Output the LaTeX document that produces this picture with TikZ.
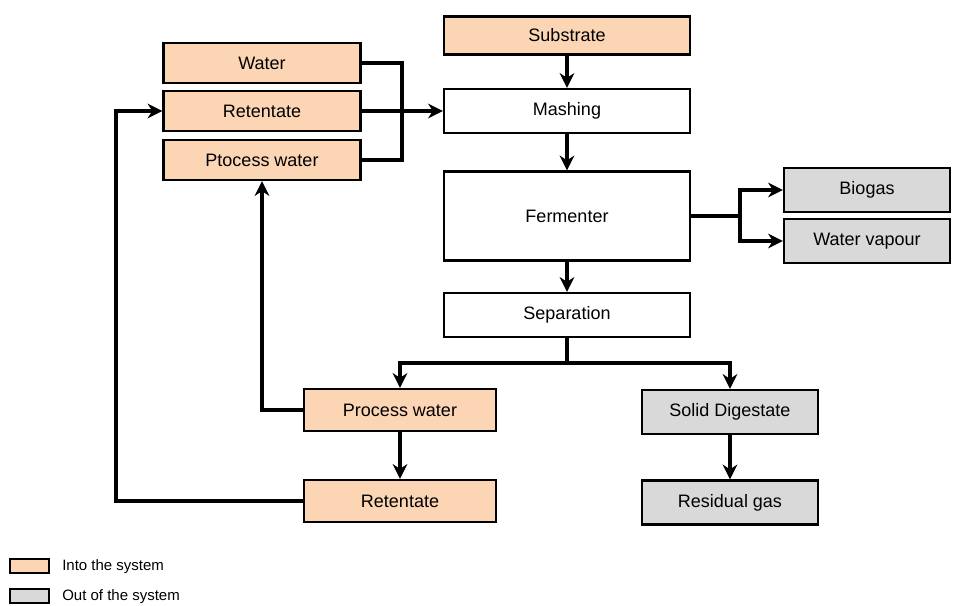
\documentclass[tikz,border=0pt]{standalone}
\usepackage{fontspec}
\setmainfont{Liberation Sans}
\usetikzlibrary{arrows.meta}
\definecolor{inbox}{RGB}{252,213,180}
\definecolor{outbox}{RGB}{217,217,217}
\begin{document}
\begin{tikzpicture}[x=0.75pt,y=-0.75pt,
        stage/.style={draw,line width=1.8pt,inner sep=0pt,font=\fontsize{13.5}{16}\selectfont},
        inflow/.style={stage,fill=inbox},
        outflow/.style={stage,fill=outbox},
        arrowline/.style={line width=2.4pt,-{Stealth[length=11pt,width=11pt,inset=3.5pt]}},
        joinline/.style={line width=2.4pt}]
        \useasboundingbox (0,0) rectangle (953,606);

        \node[inflow,minimum width=147.75pt,minimum height=30pt] (water) at (262, 63) {Water};
        \node[inflow,minimum width=147.75pt,minimum height=30pt] (rettop) at (262, 111) {Retentate};
        \node[inflow,minimum width=147.75pt,minimum height=30pt] (ptocess) at (262, 160) {Ptocess water};

        \node[inflow,minimum width=184.5pt,minimum height=28.5pt] (substrate) at (567, 35.5) {Substrate};
        \node[stage,minimum width=184.5pt,minimum height=33pt] (mashing) at (567, 111) {Mashing};
        \node[stage,minimum width=184.5pt,minimum height=66.75pt] (fermenter) at (567, 216) {Fermenter};
        \node[stage,minimum width=184.5pt,minimum height=33pt] (separation) at (567, 315) {Separation};

        \node[outflow,minimum width=124.5pt,minimum height=33pt] (biogas) at (867, 190) {Biogas};
        \node[outflow,minimum width=124.5pt,minimum height=33pt] (vapour) at (867, 241) {Water vapour};

        \node[inflow,minimum width=144pt,minimum height=31.5pt] (procwater) at (400, 410) {Process water};
        \node[inflow,minimum width=144pt,minimum height=31.5pt] (retbot) at (400, 501) {Retentate};

        \node[outflow,minimum width=132pt,minimum height=33pt] (digestate) at (730, 412) {Solid Digestate};
        \node[outflow,minimum width=132pt,minimum height=33pt] (residual) at (730, 502.5) {Residual gas};

        \coordinate (jn) at (402, 111);
        \coordinate (fj) at (740, 216);
        \coordinate (sj) at (567, 363);
        \coordinate (lp) at (116, 111);

        \draw[joinline] (water.east) -| (jn) |- (ptocess.east);
        \draw[arrowline] (rettop.east) -- (mashing.west);
        \draw[arrowline] (substrate.south) -- (mashing.north);
        \draw[arrowline] (mashing.south) -- (fermenter.north);

        \draw[joinline] (fermenter.east) -- (fj);
        \draw[arrowline] (fj) |- (biogas.west);
        \draw[arrowline] (fj) |- (vapour.west);

        \draw[arrowline] (fermenter.south) -- (separation.north);
        \draw[joinline] (separation.south) -- (sj);
        \draw[arrowline] (sj) -| (procwater.north);
        \draw[arrowline] (sj) -| (digestate.north);

        \draw[arrowline] (procwater.west) -| (ptocess.south);
        \draw[arrowline] (procwater.south) -- (retbot.north);
        \draw[arrowline] (retbot.west) -| (lp) -- (rettop.west);
        \draw[arrowline] (digestate.south) -- (residual.north);

        \node[draw,line width=1.5pt,fill=inbox,minimum width=29.25pt,minimum height=10.5pt,inner sep=0pt] (keyin) at (29.5, 566) {};
        \node[draw,line width=1.5pt,fill=outbox,minimum width=29.25pt,minimum height=10.5pt,inner sep=0pt] (keyout) at (29.5, 596) {};
        \node[anchor=west,font=\fontsize{11.25}{13}\selectfont,inner sep=0pt] (keyintext) at (62, 567) {Into the system};
        \node[anchor=west,font=\fontsize{11.25}{13}\selectfont,inner sep=0pt] (keyouttext) at (62, 597) {Out of the system};

    \end{tikzpicture}
\end{document}
